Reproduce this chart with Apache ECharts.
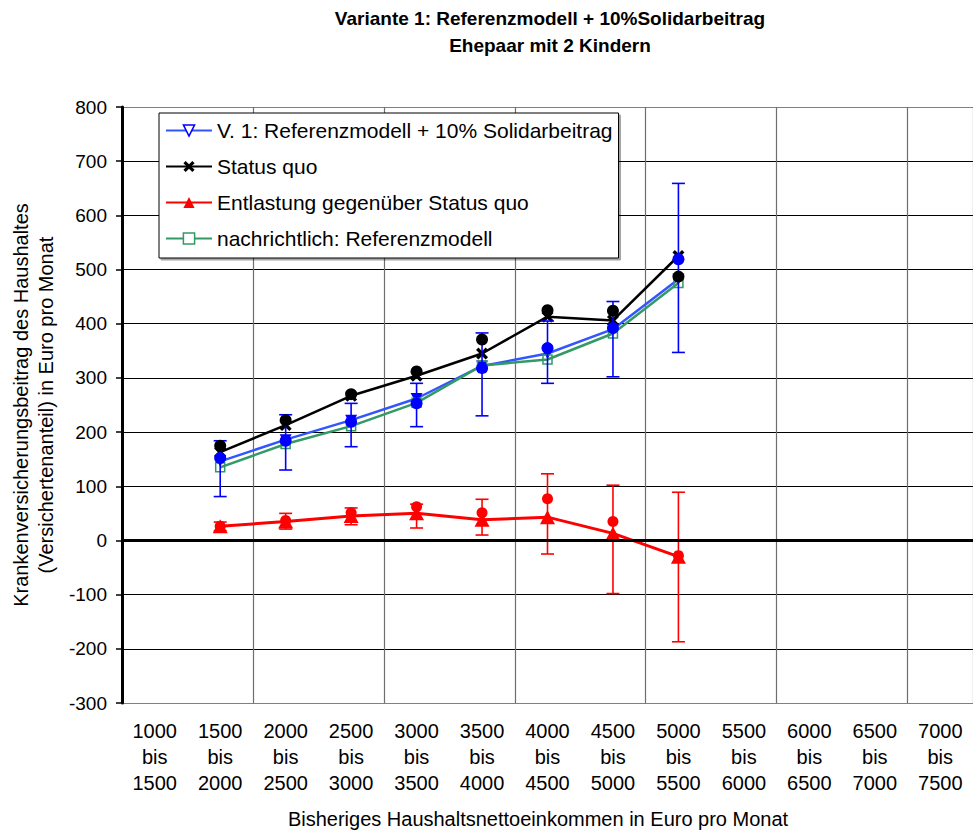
<!DOCTYPE html>
<html><head><meta charset="utf-8">
<script src="https://cdn.jsdelivr.net/npm/echarts@6/dist/echarts.min.js"></script>
<style>html,body{margin:0;padding:0;background:#fff}#c{width:973px;height:835px}</style>
</head><body><div id="c"></div>
<script>
const FONT = 'Liberation Sans, Arial, sans-serif';
const titleLines = ['Variante 1: Referenzmodell + 10%Solidarbeitrag', 'Ehepaar mit 2 Kindern'];
const categories = ['1000\nbis\n1500','1500\nbis\n2000','2000\nbis\n2500','2500\nbis\n3000','3000\nbis\n3500','3500\nbis\n4000','4000\nbis\n4500','4500\nbis\n5000','5000\nbis\n5500','5500\nbis\n6000','6000\nbis\n6500','6500\nbis\n7000','7000\nbis\n7500'];
const seriesNames = ['V. 1: Referenzmodell + 10% Solidarbeitrag','Status quo','Entlastung gegenüber Status quo','nachrichtlich: Referenzmodell'];
// line series (per category, null = no value)
const v1Values       = [null,146,186,222,262,322,345,390,482,null,null,null,null];
const statusQuo      = [null,163,213,267,304,345,413,406,525,null,null,null,null];
const entlastung     = [null, 26, 35, 45, 50, 38, 43, 13,-30,null,null,null,null];
const referenzmodell = [null,135,178,211,254,323,334,382,475,null,null,null,null];
// mean markers (circles)
const blueMeans  = [null,152,184,219,253,318,355,392,519,null,null,null,null];
const blackMeans = [null,175,222,270,312,371,425,424,487,null,null,null,null];
const redMeans   = [null, 26, 37, 51, 62, 51, 77, 35,-28,null,null,null,null];
// error bar ranges
const blueLow  = [null, 81,130,173,210,230,290,302,347,null,null,null,null];
const blueHigh = [null,184,232,253,290,383,405,441,659,null,null,null,null];
const redLow   = [null, 18, 21, 29, 23, 10,-25,-98,-187,null,null,null,null];
const redHigh  = [null, 34, 50, 60, 67, 76,123,102, 89,null,null,null,null];
const yTicks = {min:-300, max:800, step:100};

function pts(arr){ const out=[]; arr.forEach((v,i)=>{ if(v!==null) out.push([i,v]); }); return out; }
function errData(lo,hi){ const out=[]; lo.forEach((v,i)=>{ if(v!==null) out.push([i,v,hi[i]]); }); return out; }
function errRender(color){
  return function(params, api){
    const x = api.value(0);
    const p1 = api.coord([x, api.value(1)]);
    const p2 = api.coord([x, api.value(2)]);
    const w = 6.5;
    const style = {stroke: color, lineWidth: 1.6, fill: null};
    return {type:'group', children:[
      {type:'line', shape:{x1:p1[0],y1:p1[1],x2:p2[0],y2:p2[1]}, style},
      {type:'line', shape:{x1:p1[0]-w,y1:p1[1],x2:p1[0]+w,y2:p1[1]}, style},
      {type:'line', shape:{x1:p2[0]-w,y1:p2[1],x2:p2[0]+w,y2:p2[1]}, style}
    ]};
  };
}
const nLines = (yTicks.max - yTicks.min)/yTicks.step + 1;
const hColors = []; for(let i=0;i<nLines;i++) hColors.push(i===0||i===nLines-1 ? '#808080' : '#000000');
const xSym = 'path://M2,0 L5,3 L8,0 L10,2 L7,5 L10,8 L8,10 L5,7 L2,10 L0,8 L3,5 L0,2 Z';

const chart = echarts.init(document.getElementById('c'), null, {renderer:'svg'});
chart.setOption({
  animation:false,
  textStyle:{fontFamily:FONT},
  graphic:[
    {type:'text', x:550, y:18, style:{text:titleLines[0], font:'bold 19px '+FONT, fill:'#000', textAlign:'center', textVerticalAlign:'middle'}},
    {type:'text', x:550, y:45, style:{text:titleLines[1], font:'bold 19px '+FONT, fill:'#000', textAlign:'center', textVerticalAlign:'middle'}}
  ],
  grid:{left:122, top:107, right:-6, bottom:132, containLabel:false},
  legend:{
    orient:'vertical', left:159, top:113, padding:[7,6,9,6], itemGap:15,
    itemWidth:46, itemHeight:14, backgroundColor:'#fff', borderColor:'#000', borderWidth:1,
    shadowColor:'rgba(0,0,0,0.35)', shadowOffsetX:2, shadowOffsetY:2, shadowBlur:0,
    textStyle:{fontSize:21, color:'#000', fontFamily:FONT},
    data:[
      {name:seriesNames[0], itemStyle:{color:'#fff', borderColor:'#0000ff', borderWidth:1.5}},
      {name:seriesNames[1]},
      {name:seriesNames[2]},
      {name:seriesNames[3], itemStyle:{color:'#fff', borderColor:'#339966', borderWidth:1.5}}
    ]
  },
  xAxis:{
    type:'category', data:categories, boundaryGap:true,
    axisLine:{show:false}, axisTick:{show:false},
    axisLabel:{interval:0, fontSize:20, lineHeight:26, color:'#000', margin:15, fontFamily:FONT},
    splitLine:{show:true, interval:1, lineStyle:{color:'#6e6e6e', width:1.2}},
    name:'Bisheriges Haushaltsnettoeinkommen in Euro pro Monat', nameLocation:'middle', nameGap:106,
    nameTextStyle:{fontSize:20, color:'#000', fontFamily:FONT, padding:[0,19,0,0]}
  },
  yAxis:{
    type:'value', min:yTicks.min, max:yTicks.max, interval:yTicks.step,
    axisLine:{show:true, onZero:false, lineStyle:{color:'#000', width:3}},
    axisTick:{show:true, length:6, lineStyle:{color:'#000', width:1.5}},
    axisLabel:{fontSize:19, color:'#000', margin:15, fontFamily:FONT},
    splitLine:{show:true, lineStyle:{color:hColors, width:1.2}},
    name:'Krankenversicherungsbeitrag des Haushaltes\n(Versichertenanteil) in Euro pro Monat',
    nameLocation:'middle', nameGap:64, nameRotate:90,
    nameTextStyle:{fontSize:20, lineHeight:25, color:'#000', fontFamily:FONT}
  },
  series:[
    {type:'line', name:'zero', data:[], silent:true, z:1,
     markLine:{silent:true, symbol:'none', label:{show:false}, lineStyle:{color:'#000', width:3, type:'solid'}, data:[{yAxis:0}]}},
    {type:'line', name:seriesNames[0], data:v1Values, z:3,
     symbol:'triangle', symbolRotate:180, symbolSize:[12,11],
     lineStyle:{color:'#3355ff', width:2.5}, itemStyle:{color:'#0000ff'}},
    {type:'line', name:seriesNames[1], data:statusQuo, z:3,
     symbol:xSym, symbolSize:12, lineStyle:{color:'#000', width:2.5}, itemStyle:{color:'#000'}},
    {type:'line', name:seriesNames[2], data:entlastung, z:3,
     symbol:'triangle', symbolSize:[15,14], lineStyle:{color:'#ff0000', width:3}, itemStyle:{color:'#ff0000'}},
    {type:'line', name:seriesNames[3], data:referenzmodell, z:3,
     symbol:'rect', symbolSize:9, lineStyle:{color:'#339966', width:2.5},
     itemStyle:{color:'rgba(255,255,255,0)', borderColor:'#339966', borderWidth:1.5}},
    {type:'custom', name:'blueErr', data:errData(blueLow,blueHigh), renderItem:errRender('#0000ff'), z:4, encode:{x:0, y:[1,2]}},
    {type:'custom', name:'redErr', data:errData(redLow,redHigh), renderItem:errRender('#ff0000'), z:4, encode:{x:0, y:[1,2]}},
    {type:'scatter', name:'blackMean', data:pts(blackMeans), symbol:'circle', symbolSize:12, itemStyle:{color:'#000', opacity:1}, z:5},
    {type:'scatter', name:'blueMean', data:pts(blueMeans), symbol:'circle', symbolSize:12, itemStyle:{color:'#0000ff', opacity:1}, z:5},
    {type:'scatter', name:'redMean', data:pts(redMeans), symbol:'circle', symbolSize:11, itemStyle:{color:'#ff0000', opacity:1}, z:5}
  ]
});
</script></body></html>
